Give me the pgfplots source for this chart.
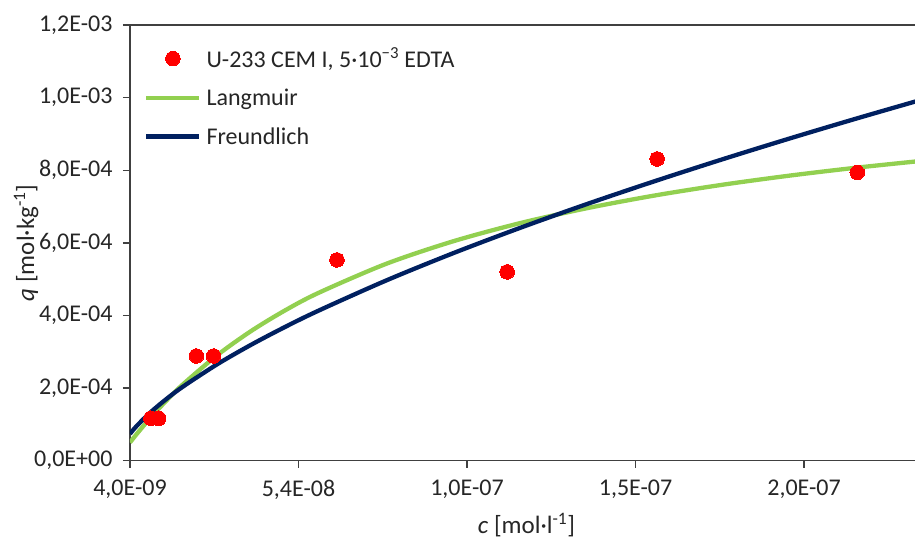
\documentclass[border=0pt]{standalone}
\usepackage{fontspec}
\setmainfont{Carlito}
\usepackage{pgfplots}
\pgfplotsset{compat=1.18}
\definecolor{lgreen}{HTML}{92D050}
\definecolor{dblue}{HTML}{002060}
\definecolor{axgray}{HTML}{404040}
\pgfplotsset{dotlegend/.style={legend image code/.code={\draw[##1] plot coordinates {(26.5pt,0pt)};}}}
\begin{document}
\begin{tikzpicture}
\clip (-130pt,-80.3pt) rectangle (785pt,460.7pt);
\begin{axis}[
 at={(0pt,0pt)}, anchor=south west,
 scale only axis, width=793pt, height=435.7pt,
 xmin=4e-9, xmax=2.393e-7, ymin=0, ymax=1.2e-3,
 xtick={4e-9,5.4e-8,1.04e-7,1.54e-7,2.04e-7},
 xticklabels={{4,0E-09},{5,4E-08},{1,0E-07},{1,5E-07},{2,0E-07}},
 ytick={0,2e-4,4e-4,6e-4,8e-4,1e-3,1.2e-3},
 yticklabels={{0,0E+00},{2,0E-04},{4,0E-04},{6,0E-04},{8,0E-04},{1,0E-03},{1,2E-03}},
 scaled ticks=false,
 tick align=outside, major tick length=7pt,
 xtick pos=bottom, ytick pos=left,
 axis line style={axgray, line width=1.3pt},
 every tick/.style={axgray, line width=1.3pt},
 ticklabel style={font=\fontsize{24}{28}\selectfont, text=black!85},
 xticklabel style={yshift=-9pt},
 yticklabel style={xshift=-7pt},
 xlabel={\textit{c} [mol·l\textsuperscript{-1}]},
 ylabel={\textit{q} [mol·kg\textsuperscript{-1}]},
 label style={font=\fontsize{25}{30}\selectfont, text=black!85},
 xlabel style={at={(axis description cs:0.5,-0.167)}, anchor=base},
 ylabel style={at={(axis description cs:-0.1311,0.5)}, anchor=center},
 legend style={draw=none, fill=none, at={(axis description cs:0.0177,0.8354)}, anchor=west,
   inner sep=0pt, column sep=5pt, row sep=20pt, font=\fontsize{24}{28}\selectfont,
   nodes={inner sep=0pt, text=black!85}},
 legend cell align=left,
 legend image code/.code={\draw[#1] (0pt,0pt) -- (53pt,0pt);},
]
\addlegendimage{only marks, mark=*, color=red, mark size=7.3pt, mark options={draw=red, fill=red, line width=0pt}, dotlegend}
\addlegendentry{U-233 CEM I, 5·10\textsuperscript{−3} EDTA}
\addplot[lgreen, line width=4.3pt, smooth] coordinates {
(4e-9,5.01e-5) (6e-9,7.357e-5) (1e-8,1.175e-4) (1.5e-8,1.6745e-4) (2e-8,2.127e-4)
(3e-8,2.914e-4) (4e-8,3.575e-4) (5e-8,4.139e-4) (6e-8,4.625e-4) (8e-8,5.422e-4)
(1e-7,6.046e-4) (1.2e-7,6.549e-4) (1.4e-7,6.962e-4) (1.6e-7,7.309e-4) (1.8e-7,7.603e-4)
(2.0e-7,7.855e-4) (2.2e-7,8.075e-4) (2.4e-7,8.268e-4)};
\addlegendentry{Langmuir}
\addplot[dblue, line width=4.3pt, smooth] coordinates {
(4e-9,7.40e-5) (6e-9,9.583e-5) (1e-8,1.3254e-4) (1.5e-8,1.7145e-4) (2e-8,2.058e-4)
(3e-8,2.663e-4) (4e-8,3.196e-4) (5e-8,3.683e-4) (6e-8,4.135e-4) (8e-8,4.963e-4)
(1e-7,5.719e-4) (1.2e-7,6.421e-4) (1.4e-7,7.082e-4) (1.6e-7,7.708e-4) (1.8e-7,8.307e-4)
(2.0e-7,8.882e-4) (2.2e-7,9.436e-4) (2.4e-7,9.972e-4)};
\addlegendentry{Freundlich}
\addplot[only marks, mark=*, color=red, mark size=7.3pt, mark options={draw=red, fill=red, line width=0pt}, forget plot] coordinates {
(1.02e-8,1.168e-4) (1.25e-8,1.168e-4) (2.37e-8,2.884e-4) (2.88e-8,2.884e-4)
(6.54e-8,5.53e-4) (1.159e-7,5.20e-4) (1.604e-7,8.31e-4) (2.198e-7,7.94e-4)};
\end{axis}
\end{tikzpicture}
\end{document}
